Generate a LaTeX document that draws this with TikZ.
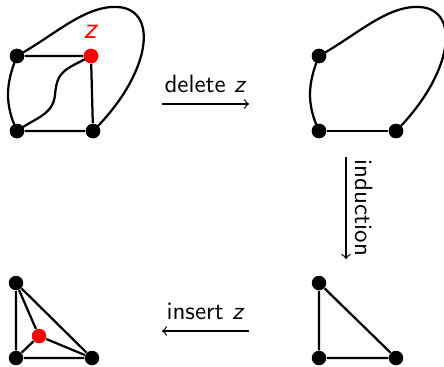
\documentclass[tikz,border=0pt]{standalone}
\begin{document}
\begin{tikzpicture}[x=0.4pt,y=-0.4pt,
  vtx/.style={circle,fill=black,inner sep=0pt,minimum size=14.5*0.4pt},
  rvtx/.style={vtx,fill=red},
  edge/.style={line width=0.9pt},
  step arrow/.style={->,line width=0.5pt},
  lbl/.style={font=\sffamily}]
\useasboundingbox (0,0) rectangle (444,366);

% graph with z
\node[vtx] (a1) at (17,56) {};
\node[rvtx] (z1) at (91,56) {};
\node[vtx] (b1) at (17,131) {};
\node[vtx] (c1) at (93,131) {};
\node[lbl,text=red,font=\sffamily\large] (zl) at (91,32) {\textit{z}};
\draw[edge] (a1) -- (z1) -- (c1) -- (b1);
\draw[edge] (a1.center) .. controls (5,85) and (5,105) .. (b1.center);
\draw[edge] (a1.center) .. controls (55,35) and (85,5) .. (118,7)
  .. controls (160,10) and (150,75) .. (c1.center);
\draw[edge] (z1.center) .. controls (65,70) and (57,70) .. (55,95)
  .. controls (53,115) and (35,118) .. (b1.center);
\node[vtx] at (a1) {};
\node[rvtx] at (z1) {};
\node[vtx] at (b1) {};
\node[vtx] at (c1) {};

% graph without z
\node[vtx] (a2) at (319,56) {};
\node[vtx] (b2) at (319,131) {};
\node[vtx] (c2) at (396,131) {};
\draw[edge] (b2) -- (c2);
\draw[edge] (a2.center) .. controls (307,85) and (307,105) .. (b2.center);
\draw[edge] (a2.center) .. controls (357,35) and (387,5) .. (420,7)
  .. controls (462,10) and (452,75) .. (c2.center);
\node[vtx] at (a2) {};
\node[vtx] at (b2) {};
\node[vtx] at (c2) {};

% triangle
\node[vtx] (a3) at (319,283) {};
\node[vtx] (b3) at (319,358) {};
\node[vtx] (c3) at (396,358) {};
\draw[edge] (a3) -- (b3) -- (c3) -- (a3);

% triangle with z inserted
\node[vtx] (a4) at (16,283) {};
\node[vtx] (b4) at (16,358) {};
\node[vtx] (c4) at (92,358) {};
\node[rvtx] (z4) at (39,336) {};
\draw[edge] (a4) -- (b4) -- (c4) -- (a4);
\draw[edge] (z4) -- (a4);
\draw[edge] (z4) -- (b4);
\draw[edge] (z4) -- (c4);

% step arrows
\coordinate (d1) at (162,104);
\coordinate (d2) at (249,104);
\draw[step arrow] (d1) -- node[lbl,above=1pt] {delete \textit{z}} (d2);
\coordinate (i1) at (346,157);
\coordinate (i2) at (346,259);
\draw[step arrow] (i1) -- node[lbl,right=0pt,rotate=-90,anchor=south] {induction} (i2);
\coordinate (s1) at (249,331);
\coordinate (s2) at (162,331);
\draw[step arrow] (s1) -- node[lbl,above=1pt] {insert \textit{z}} (s2);
\end{tikzpicture}
\end{document}
